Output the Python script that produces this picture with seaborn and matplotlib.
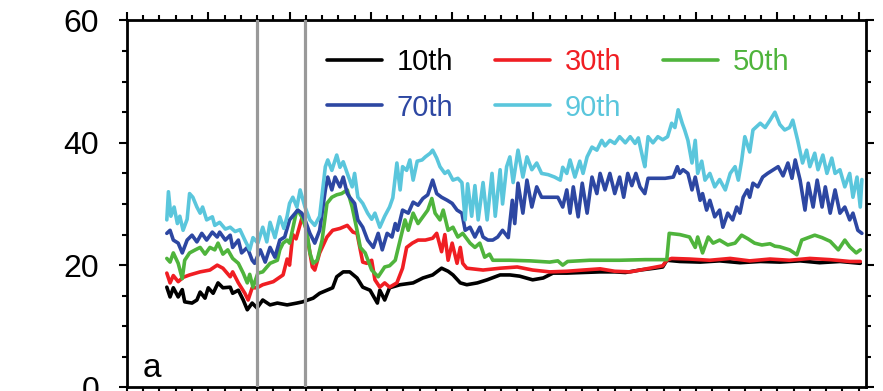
import matplotlib
matplotlib.use("Agg")
import matplotlib.pyplot as plt
from matplotlib.ticker import MultipleLocator
from matplotlib.lines import Line2D
import seaborn as sns

sns.set_theme(style="ticks")
plt.rcParams["font.family"] = ["Liberation Sans", "DejaVu Sans"]

# percentile series (x in axis units, y in the plotted quantity)
t10 = [4.9, 5.3, 5.7, 6.3, 6.8, 7.1, 8.0, 8.6, 9.0, 9.6, 10.0, 10.6, 11.2, 11.8, 12.7, 13.0, 13.7, 14.3, 14.8, 15.4,
       16.0, 16.7, 17.6, 18.5, 19.7, 20.9, 21.6, 22.9, 23.7, 25.3, 25.8, 26.6, 27.4, 28.3, 29.0, 29.9, 30.8, 31.1, 31.7, 32.3,
       33.6, 35.2, 36.4, 37.6, 38.7, 39.5, 40.1, 41.0, 41.8, 43.1, 44.3, 45.9, 47.1, 48.3, 49.9, 51.2, 52.4, 54.1, 56.1, 58.2,
       60.0, 61.3, 63.1, 64.9, 65.9, 66.4, 68.0, 70.5, 72.9, 75.4, 77.9, 80.3, 82.8, 85.2, 87.7, 90.2]
p10 = [16.4, 14.8, 16.3, 14.8, 16.0, 14.0, 13.8, 14.3, 15.6, 14.6, 16.3, 15.4, 17.1, 16.3, 16.4, 15.4, 15.9, 14.3, 12.7, 13.8,
       13.0, 14.3, 13.5, 13.8, 13.5, 13.8, 14.0, 14.6, 15.4, 16.3, 18.1, 18.9, 18.9, 17.9, 16.4, 15.9, 13.8, 15.9, 14.3, 16.3,
       16.8, 17.1, 17.9, 18.4, 19.5, 19.0, 18.4, 17.1, 16.8, 17.1, 17.6, 18.4, 18.4, 18.2, 17.6, 17.9, 18.7, 18.7, 18.8, 18.9,
       18.9, 18.8, 19.2, 19.5, 19.7, 20.8, 20.6, 20.5, 20.7, 20.4, 20.6, 20.5, 20.7, 20.4, 20.6, 20.3]

t30 = [4.9, 5.3, 5.7, 6.3, 6.9, 7.7, 9.0, 10.2, 11.1, 11.8, 12.7, 13.0, 13.7, 14.5, 14.9, 15.4, 16.0, 16.7, 18.0, 19.2,
       19.7, 20.0, 20.4, 20.8, 21.2, 21.5, 21.9, 22.3, 22.8, 23.1, 23.7, 24.6, 25.3, 26.2, 27.1, 27.8, 28.3, 28.7, 29.0, 29.5,
       30.1, 30.5, 31.1, 31.7, 32.3, 33.2, 33.9, 34.4, 35.1, 35.8, 36.7, 37.6, 38.1, 38.7, 39.1, 39.5, 40.0, 40.6, 41.0, 41.3,
       41.8, 43.8, 45.9, 48.0, 49.9, 52.0, 54.1, 56.1, 58.2, 60.0, 61.9, 64.3, 65.9, 66.4, 67.0, 69.2, 71.7, 74.2, 76.6, 79.1,
       81.5, 84.0, 86.5, 88.9, 90.2]
p30 = [18.7, 17.1, 18.3, 17.3, 18.0, 18.4, 18.9, 19.2, 20.0, 19.5, 18.1, 18.9, 17.1, 15.4, 14.3, 16.3, 16.3, 16.8, 17.3, 18.4,
       21.0, 20.0, 25.0, 24.3, 26.2, 27.6, 26.8, 23.6, 19.7, 19.2, 22.0, 24.6, 25.7, 26.0, 26.5, 25.4, 25.2, 22.5, 20.5, 20.3,
       20.8, 17.6, 16.4, 17.1, 16.4, 17.1, 19.5, 22.9, 23.6, 24.1, 24.1, 24.4, 25.2, 22.2, 25.0, 20.8, 23.6, 20.3, 22.9, 20.3,
       19.5, 19.2, 19.5, 19.7, 19.2, 18.9, 19.0, 19.2, 19.4, 19.0, 18.9, 19.5, 19.9, 20.8, 21.1, 21.0, 20.8, 21.1, 20.7, 21.0,
       20.8, 21.1, 20.9, 20.6, 20.6]

t50 = [4.9, 5.3, 5.7, 6.3, 6.8, 7.1, 7.7, 8.4, 9.0, 9.6, 10.2, 10.8, 11.2, 11.8, 12.4, 13.0, 13.7, 14.3, 14.8, 15.1,
       15.5, 16.1, 16.7, 17.6, 18.5, 18.8, 19.2, 19.7, 20.0, 20.4, 20.8, 21.0, 21.5, 22.1, 22.5, 22.9, 23.4, 24.0, 24.6, 25.2,
       25.8, 26.4, 27.1, 27.7, 28.3, 28.7, 29.3, 30.1, 30.9, 31.7, 32.3, 33.0, 33.6, 34.2, 34.6, 35.2, 35.8, 36.4, 37.0, 37.5,
       37.9, 38.5, 38.9, 39.5, 40.1, 40.7, 41.3, 42.2, 42.8, 43.4, 44.0, 44.6, 45.0, 47.1, 49.6, 52.0, 53.0, 53.6, 54.2, 56.9,
       60.6, 63.7, 66.4, 66.7, 68.0, 69.2, 69.9, 70.2, 70.8, 71.5, 72.1, 72.9, 73.9, 74.8, 75.6, 76.4, 77.2, 78.1, 79.1, 79.7,
       80.3, 81.5, 82.4, 83.0, 83.8, 84.6, 85.5, 86.5, 87.5, 88.3, 88.9, 89.7, 90.2]
p50 = [21.1, 20.5, 22.0, 20.3, 17.8, 20.8, 22.0, 22.5, 22.9, 21.8, 22.9, 22.5, 23.6, 21.8, 22.5, 21.1, 20.3, 18.7, 17.1, 18.5,
       16.4, 18.7, 18.9, 20.3, 20.8, 22.5, 23.6, 24.1, 23.6, 26.0, 28.5, 29.0, 27.9, 25.7, 22.0, 20.3, 20.8, 24.1, 30.1, 31.1,
       31.5, 31.7, 32.3, 29.5, 25.7, 22.9, 22.0, 19.2, 18.1, 19.7, 19.9, 20.8, 24.1, 27.4, 25.7, 28.5, 26.8, 27.9, 29.0, 30.9,
       28.5, 27.4, 29.0, 25.7, 26.2, 24.6, 25.2, 23.6, 22.9, 23.6, 21.3, 21.8, 20.8, 20.8, 20.7, 20.5, 20.7, 20.0, 20.6, 20.8,
       20.8, 20.9, 20.9, 25.2, 25.0, 24.6, 22.9, 24.6, 22.0, 24.6, 23.6, 24.1, 23.3, 23.6, 24.9, 24.3, 23.6, 23.3, 23.5, 23.1,
       23.0, 22.5, 21.7, 24.1, 24.5, 24.9, 24.5, 23.9, 22.5, 24.1, 23.0, 22.0, 22.5]

t70 = [4.9, 5.3, 5.7, 6.3, 6.8, 7.4, 8.0, 8.6, 9.2, 9.8, 10.5, 11.1, 11.4, 12.1, 12.7, 13.0, 13.7, 14.1, 14.8, 15.4,
       15.7, 16.4, 17.0, 17.6, 18.2, 18.8, 19.4, 20.0, 20.7, 21.0, 21.5, 21.9, 22.5, 23.1, 23.7, 24.4, 24.7, 25.2, 25.6, 26.2,
       26.6, 27.1, 27.4, 28.0, 28.4, 29.0, 29.6, 30.3, 30.9, 31.4, 32.0, 32.6, 33.0, 33.3, 33.9, 34.6, 35.2, 35.8, 36.4, 37.0,
       37.6, 38.1, 38.7, 39.4, 40.0, 40.6, 41.2, 41.6, 42.2, 42.8, 43.4, 43.8, 44.4, 45.0, 45.6, 46.2, 46.9, 47.4, 47.7, 48.1,
       48.7, 49.2, 49.8, 50.4, 51.0, 52.0, 53.0, 53.6, 54.1, 54.5, 54.9, 55.5, 56.0, 56.6, 57.2, 57.8, 58.2, 58.8, 59.4, 60.0,
       60.6, 61.1, 61.6, 62.1, 62.6, 63.1, 63.7, 64.1, 64.9, 66.2, 67.2, 67.7, 68.0, 68.4, 69.0, 69.5, 69.9, 70.5, 70.8, 71.3,
       71.7, 72.3, 72.9, 73.3, 73.9, 74.5, 75.0, 75.4, 75.8, 76.3, 76.6, 77.0, 77.6, 78.2, 78.8, 79.5, 80.1, 80.7, 81.3, 81.8,
       82.2, 82.8, 83.4, 83.8, 84.4, 84.9, 85.5, 85.9, 86.5, 87.1, 87.7, 88.3, 88.9, 89.3, 89.9, 90.4]
p70 = [25.2, 25.7, 24.1, 23.6, 22.0, 24.1, 24.9, 23.8, 25.2, 24.1, 25.4, 24.6, 25.4, 24.1, 24.9, 22.9, 24.1, 22.0, 22.9, 20.8,
       20.3, 22.5, 20.5, 22.9, 21.3, 24.1, 24.6, 27.4, 28.5, 29.0, 28.5, 27.4, 25.2, 23.6, 25.7, 32.3, 34.4, 32.3, 34.4, 32.8,
       34.4, 31.7, 31.1, 30.1, 27.4, 26.2, 24.1, 22.9, 25.2, 22.5, 25.2, 24.6, 26.8, 25.7, 29.0, 28.5, 30.3, 29.8, 30.9, 31.5,
       33.9, 31.7, 31.1, 30.6, 30.1, 29.0, 28.5, 25.7, 26.2, 24.6, 26.2, 24.6, 24.1, 24.1, 24.6, 25.7, 24.5, 30.6, 26.8, 33.4,
       28.5, 33.9, 29.5, 32.8, 31.1, 31.1, 31.1, 29.5, 32.3, 28.5, 32.8, 27.9, 33.4, 28.5, 34.4, 31.7, 35.0, 32.3, 35.0, 31.7,
       34.4, 31.1, 35.0, 33.0, 35.0, 32.8, 31.7, 34.2, 34.2, 34.2, 34.4, 36.1, 35.0, 35.6, 35.0, 32.3, 34.4, 30.6, 31.7, 29.0,
       30.6, 27.9, 29.0, 26.2, 28.5, 27.4, 29.5, 28.5, 31.1, 32.3, 31.1, 33.4, 32.8, 34.4, 35.0, 35.6, 36.1, 34.6, 36.7, 34.2,
       37.2, 33.9, 29.0, 33.4, 29.5, 33.9, 29.5, 32.8, 28.5, 32.3, 28.5, 29.5, 27.4, 28.5, 25.7, 25.2]

t90 = [4.9, 5.1, 5.4, 5.8, 6.2, 6.5, 6.9, 7.4, 7.7, 8.1, 8.6, 9.0, 9.3, 9.8, 10.5, 10.8, 11.4, 12.1, 12.7, 13.3,
       13.9, 14.5, 15.1, 15.5, 16.1, 16.7, 17.2, 17.6, 18.2, 18.8, 19.3, 19.7, 20.0, 20.4, 20.9, 21.3, 21.9, 22.5, 23.1, 23.7,
       24.4, 24.7, 25.2, 25.8, 26.2, 26.6, 27.1, 27.7, 28.0, 28.4, 29.0, 29.6, 30.1, 30.5, 31.1, 31.7, 32.3, 32.7, 33.2, 33.6,
       33.9, 34.4, 34.8, 35.2, 35.7, 36.3, 36.7, 37.3, 37.6, 38.1, 38.5, 39.1, 39.5, 40.1, 40.7, 41.2, 41.6, 41.9, 42.4, 42.8,
       43.2, 43.8, 44.3, 44.9, 45.3, 45.9, 46.2, 46.7, 47.1, 47.5, 48.1, 48.7, 49.2, 49.8, 50.4, 51.0, 51.8, 52.6, 53.3, 53.6,
       54.1, 54.5, 55.1, 55.7, 56.1, 56.6, 57.2, 57.8, 58.4, 58.8, 59.4, 60.0, 60.6, 61.3, 61.9, 62.5, 62.9, 63.5, 63.7, 64.1,
       64.7, 65.3, 65.9, 66.5, 67.0, 67.4, 67.8, 68.3, 68.6, 69.0, 69.5, 69.9, 70.2, 70.7, 71.1, 71.7, 72.3, 72.9, 73.6, 74.2,
       74.8, 75.2, 75.6, 76.0, 76.6, 77.0, 77.9, 78.5, 79.1, 79.7, 80.3, 80.9, 81.5, 81.9, 82.5, 83.1, 83.6, 84.0, 84.6, 85.0,
       85.6, 86.1, 86.7, 87.1, 87.7, 88.3, 88.9, 89.3, 89.8, 90.2, 90.4]
p90 = [27.4, 32.0, 28.0, 29.5, 26.8, 28.0, 25.7, 27.5, 31.7, 31.1, 29.5, 28.5, 29.5, 27.4, 27.9, 26.5, 27.0, 25.9, 26.2, 25.5,
       25.8, 24.1, 22.5, 24.5, 23.6, 26.2, 23.8, 27.0, 24.5, 27.9, 26.0, 28.0, 30.1, 31.1, 29.5, 32.3, 29.5, 27.4, 26.5, 28.0,
       36.1, 37.2, 35.5, 38.0, 36.0, 36.9, 35.0, 32.8, 35.0, 31.1, 30.1, 28.5, 27.5, 28.5, 26.2, 28.0, 29.5, 31.0, 36.7, 32.3,
       36.1, 35.5, 37.2, 33.9, 37.0, 37.2, 37.7, 38.3, 38.8, 37.5, 36.1, 35.0, 35.4, 33.9, 34.2, 33.5, 27.4, 33.3, 28.0, 33.0,
       27.4, 33.5, 27.4, 35.0, 28.0, 35.6, 30.0, 36.1, 37.7, 33.5, 38.8, 34.4, 37.7, 35.6, 36.7, 35.0, 34.8, 34.4, 33.9, 36.0,
       35.0, 37.2, 34.4, 37.0, 35.0, 37.7, 39.3, 38.8, 40.4, 39.5, 40.4, 39.9, 41.0, 40.0, 41.0, 39.9, 40.8, 37.2, 36.1, 41.0,
       40.0, 41.0, 40.5, 41.0, 43.2, 42.5, 45.4, 43.2, 42.1, 40.4, 36.7, 40.4, 35.0, 37.0, 33.9, 35.0, 32.8, 34.0, 32.3, 35.0,
       36.1, 33.9, 37.0, 41.0, 38.5, 42.1, 43.2, 42.5, 43.7, 45.0, 43.0, 42.1, 42.5, 43.7, 40.4, 36.7, 38.8, 36.1, 38.3, 35.6,
       38.0, 35.0, 37.5, 35.0, 35.6, 32.8, 35.0, 31.1, 34.4, 29.5, 34.0]

labels = ["10th", "30th", "50th", "70th", "90th"]
colors = ["#000000", "#f01e23", "#4fb43c", "#2d47a2", "#5ac6dc"]
markers_x = [16.0, 21.9]   # grey vertical reference lines

fig = plt.figure(figsize=(8.83, 3.91), dpi=100)
ax = fig.add_axes([0.1438, 0.0090, 0.8369, 0.9386])

series = [(t10, p10), (t30, p30), (t50, p50), (t70, p70), (t90, p90)]
for (t, p), c in zip(series, colors):
    sns.lineplot(x=t, y=p, ax=ax, color=c, lw=2.6, estimator=None, sort=False)

for xv in markers_x:
    ax.axvline(xv, color="#999999", lw=2.3, zorder=5)

ax.set_xlim(0, 90.9)
ax.set_ylim(0, 60)
ax.xaxis.set_major_locator(MultipleLocator(10))
ax.xaxis.set_minor_locator(MultipleLocator(2))
ax.yaxis.set_major_locator(MultipleLocator(20))
ax.yaxis.set_minor_locator(MultipleLocator(5))
ax.tick_params(which="both", direction="out", top=True, right=True, width=1.5, color="black",
               labelcolor="black", labelbottom=False, labeltop=False, labelright=False)
ax.tick_params(which="major", length=6)
ax.tick_params(which="minor", length=3.5)
ax.tick_params(axis="y", labelsize=23, pad=14)
for s in ax.spines.values():
    s.set_linewidth(2)
    s.set_color("black")
ax.set_xlabel("")
ax.set_ylabel("")

ax.text(0.021, 0.028, "a", transform=ax.transAxes, fontsize=24, color="black",
        ha="left", va="baseline")

handles = [Line2D([], [], color=c, lw=2.6) for c in colors]
order = [0, 3, 1, 4, 2]
ax.legend([handles[i] for i in order], [labels[i] for i in order],
          labelcolor=[colors[i] for i in order], ncol=3, loc="upper left",
          bbox_to_anchor=(0.27, 0.925), frameon=False, fontsize=21,
          handlelength=1.9, handletextpad=0.5, columnspacing=1.42,
          labelspacing=0.6, borderaxespad=0, borderpad=0)

plt.savefig("out.png", dpi=100)
